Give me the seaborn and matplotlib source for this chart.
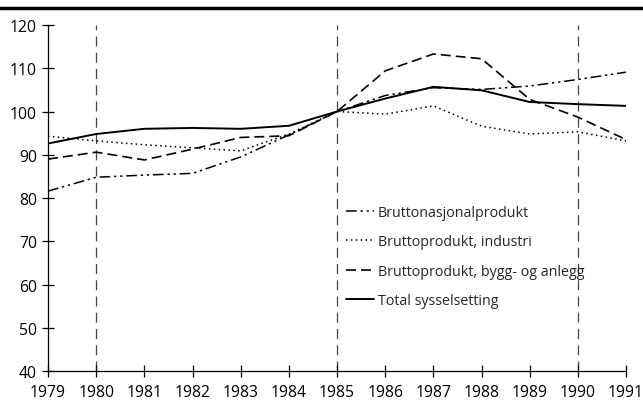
import pandas as pd
import seaborn as sns
import matplotlib.pyplot as plt
from matplotlib.lines import Line2D

years = list(range(1979, 1992))
bnp = [81.6, 84.8, 85.3, 85.7, 89.5, 94.6, 100.0, 103.7, 105.5, 105.1, 105.9, 107.4, 109.1]
industri = [94.3, 93.2, 92.3, 91.6, 90.9, 94.8, 100.0, 99.4, 101.3, 96.6, 94.8, 95.3, 93.2]
bygg = [89.0, 90.6, 88.8, 91.3, 94.0, 94.4, 100.0, 109.4, 113.3, 112.2, 102.8, 98.7, 93.5]
sysselsetting = [92.6, 94.8, 96.0, 96.2, 96.0, 96.7, 100.0, 103.0, 105.7, 104.9, 102.2, 101.7, 101.3]

labels = ['Bruttonasjonalprodukt', 'Bruttoprodukt, industri',
          'Bruttoprodukt, bygg- og anlegg', 'Total sysselsetting']
series = [bnp, industri, bygg, sysselsetting]
styles = [(0, (7, 2.5, 1.5, 2.5, 1.5, 2.5)), (0, (1, 2.2)), (0, (6, 3)), '-']
widths = [1.1, 1.1, 1.2, 1.4]

sns.set_style('ticks')
plt.rcParams['font.family'] = ['Open Sans', 'DejaVu Sans']

fig = plt.figure(figsize=(6.43, 4.02), dpi=100)
ax = fig.add_axes([0.0747, 0.0746, 0.899, 0.8607])

for vals, lab, ls, lw in zip(series, labels, styles, widths):
    df = pd.DataFrame({'year': years, 'value': vals})
    sns.lineplot(data=df, x='year', y='value', ax=ax, color='black',
                 linestyle=ls, linewidth=lw, label=lab)

# markerte år
for yr in [1980, 1985, 1990]:
    ax.axvline(yr, color='#444444', linestyle=(0, (8, 5)), linewidth=0.9, zorder=0)

ax.set_xlim(1979, 1991)
ax.set_ylim(40, 120)
ax.set_xticks(years)
ax.set_yticks(range(40, 121, 10))
ax.set_xlabel('')
ax.set_ylabel('')
ax.tick_params(direction='inout', length=8, width=0.9, labelsize=11.3, pad=4, colors='black')
ax.tick_params(axis='x', pad=5)
for s in ['top', 'right']:
    ax.spines[s].set_visible(False)
for s in ['left', 'bottom']:
    ax.spines[s].set_linewidth(0.9)
    ax.spines[s].set_color('black')

ax.legend(loc='upper left', bbox_to_anchor=(0.494, 0.517), frameon=False,
          fontsize=10.3, handlelength=1.9, handletextpad=0.3, labelspacing=1.0)

fig.add_artist(Line2D([0.0, 1.0], [0.978, 0.978], transform=fig.transFigure,
                      color='black', linewidth=2.5))

fig.savefig('out.png', dpi=100)
